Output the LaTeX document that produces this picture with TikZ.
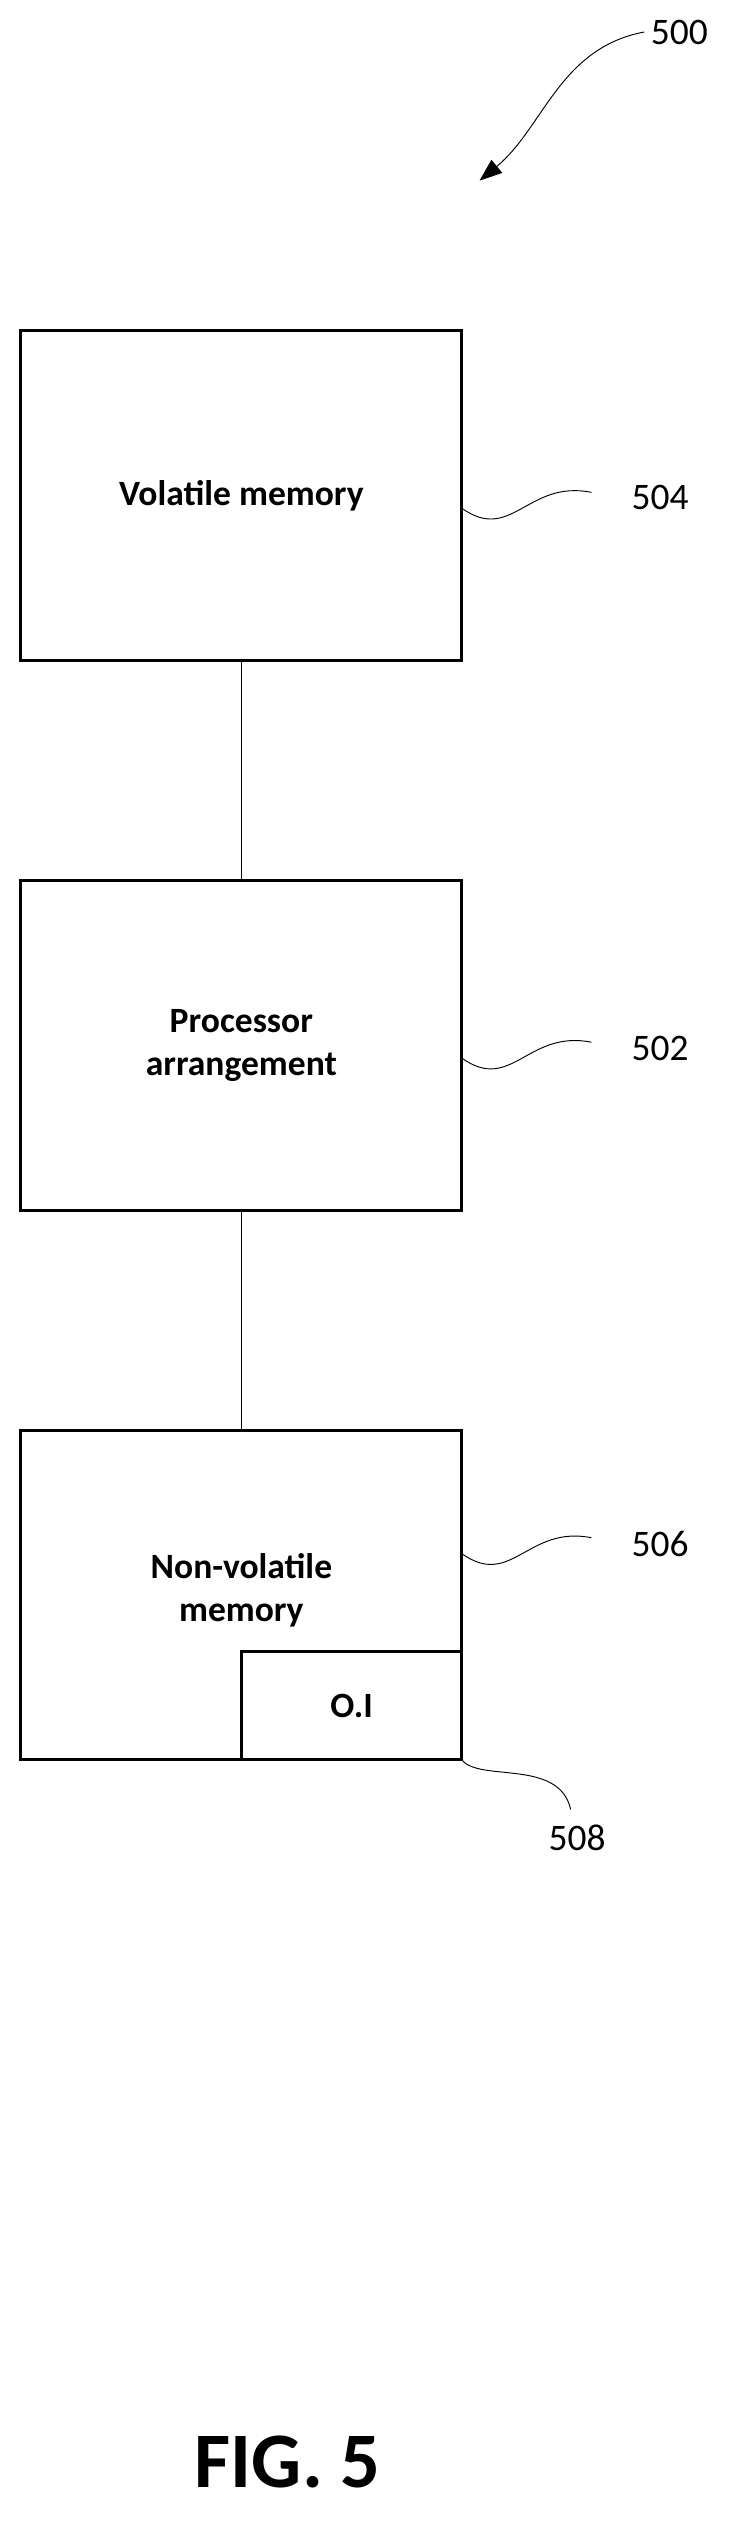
\documentclass[tikz,border=0pt]{standalone}
\usepackage{fontspec}
\setmainfont{Carlito}
\usetikzlibrary{arrows.meta}
\tikzset{blk/.style={draw, line width=1.6pt, minimum width=276*0.03cm, minimum height=206*0.03cm, align=center, font=\fontsize{19}{23}\selectfont\bfseries, inner sep=0pt},
  refnum/.style={font=\fontsize{20}{24}\selectfont},
  wig/.style={line width=0.5pt}}
\begin{document}
\begin{tikzpicture}[x=0.03cm,y=-0.03cm]
\useasboundingbox (0,0) rectangle (463,1584);
\node[blk] (vol) at (151,310) {Volatile memory};
\node[blk] (proc) at (151,654) {Processor\\arrangement};
\node[blk] (nvm) at (151,998) {};
\node[font=\fontsize{19}{23}\selectfont\bfseries, align=center] (nvmtxt) at (151,995) {Non-volatile\\memory};
\node[draw, line width=1.6pt, minimum width=138*0.03cm, minimum height=68*0.03cm, anchor=south east, font=\fontsize{19}{23}\selectfont\bfseries, inner sep=0pt] (oi) at (nvm.south east) {O.I};
\draw[line width=0.6pt] (vol) -- (proc);
\draw[line width=0.6pt] (proc) -- (nvm);
% reference numerals
\node[refnum] (n500) at (425,20) {500};
\node[refnum] (n504) at (413,311) {504};
\node[refnum] (n502) at (413,656) {502};
\node[refnum] (n506) at (413,966) {506};
\node[refnum] (n508) at (361,1150) {508};
\draw[wig, -{Triangle[length=12pt,width=9pt]}] (n500.west) .. controls (350,30) and (340,80) .. (300,113);
\draw[wig] (289,318) .. controls (320,340) and (330,300) .. (370,308);
\draw[wig] (289,662) .. controls (320,684) and (330,644) .. (370,652);
\draw[wig] (289,972) .. controls (320,994) and (330,954) .. (370,962);
\draw[wig] (289,1101) .. controls (300,1115) and (350,1100) .. (357,1132);
\node[font=\fontsize{42}{48}\selectfont\bfseries] (fig) at (180,1540) {FIG. 5};
\end{tikzpicture}
\end{document}
